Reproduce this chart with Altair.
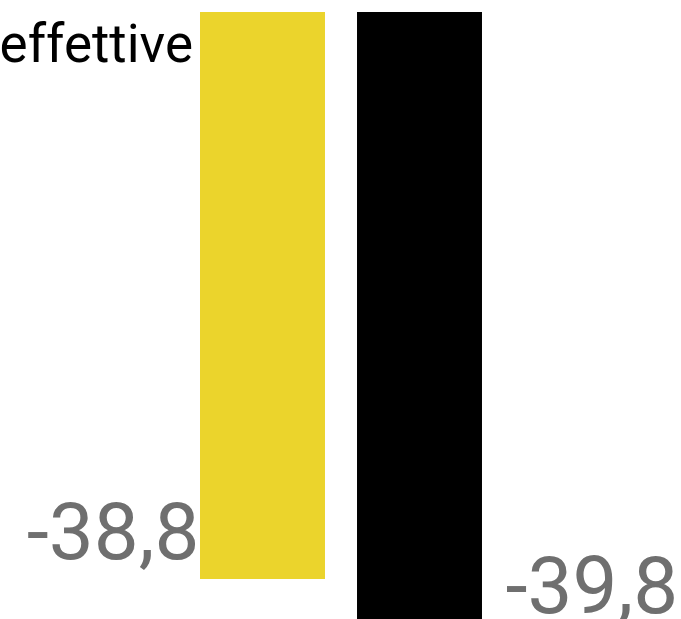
import altair as alt
import pandas as pd

series = ["Serie A", "Serie B"]
values = [-38.8, -39.8]
colors = ["#EBD42C", "#000000"]
note_text = ["effettive"]

df = pd.DataFrame({"serie": series, "valore": values})

x = alt.X("serie:N", sort=series, axis=None,
          scale=alt.Scale(paddingInner=0.204, paddingOuter=1))
y = alt.Y("valore:Q", axis=None,
          scale=alt.Scale(domain=[-39.54, -28.3], zero=False, nice=False))

base = alt.Chart(df).encode(x=x)

bars = base.mark_bar(clip=True).encode(
    y=y,
    y2=alt.datum(0),
    color=alt.Color("serie:N", scale=alt.Scale(domain=series, range=colors), legend=None),
)

lab = base.transform_calculate(label="replace(toString(datum.valore), '.', ',')")
lab1 = lab.transform_filter(alt.datum.serie == series[0]).mark_text(
    align="right", baseline="alphabetic", dx=-63, dy=-20,
    fontSize=80, font="Roboto", color="#6F6F6F"
).encode(y=y, text="label:N")
lab2 = lab.transform_filter(alt.datum.serie == series[1]).mark_text(
    align="left", baseline="alphabetic", dx=86, dy=-20,
    fontSize=80, font="Roboto", color="#6F6F6F"
).encode(y=y, text="label:N")

note = alt.Chart(pd.DataFrame({"t": note_text})).mark_text(
    align="right", baseline="alphabetic", fontSize=53, font="Roboto", color="#000000"
).encode(x=alt.value(150), y=alt.value(50), text="t:N")

chart = alt.layer(bars, lab1, lab2, note).properties(
    width=596, height=607,
    padding={"top": 12, "left": 43, "right": 42, "bottom": 0},
    autosize=alt.AutoSizeParams(type="none"),
    background="#FFFFFF",
).configure_view(stroke=None)

chart.save("out.html", embed_options={"renderer": "svg", "actions": False})
